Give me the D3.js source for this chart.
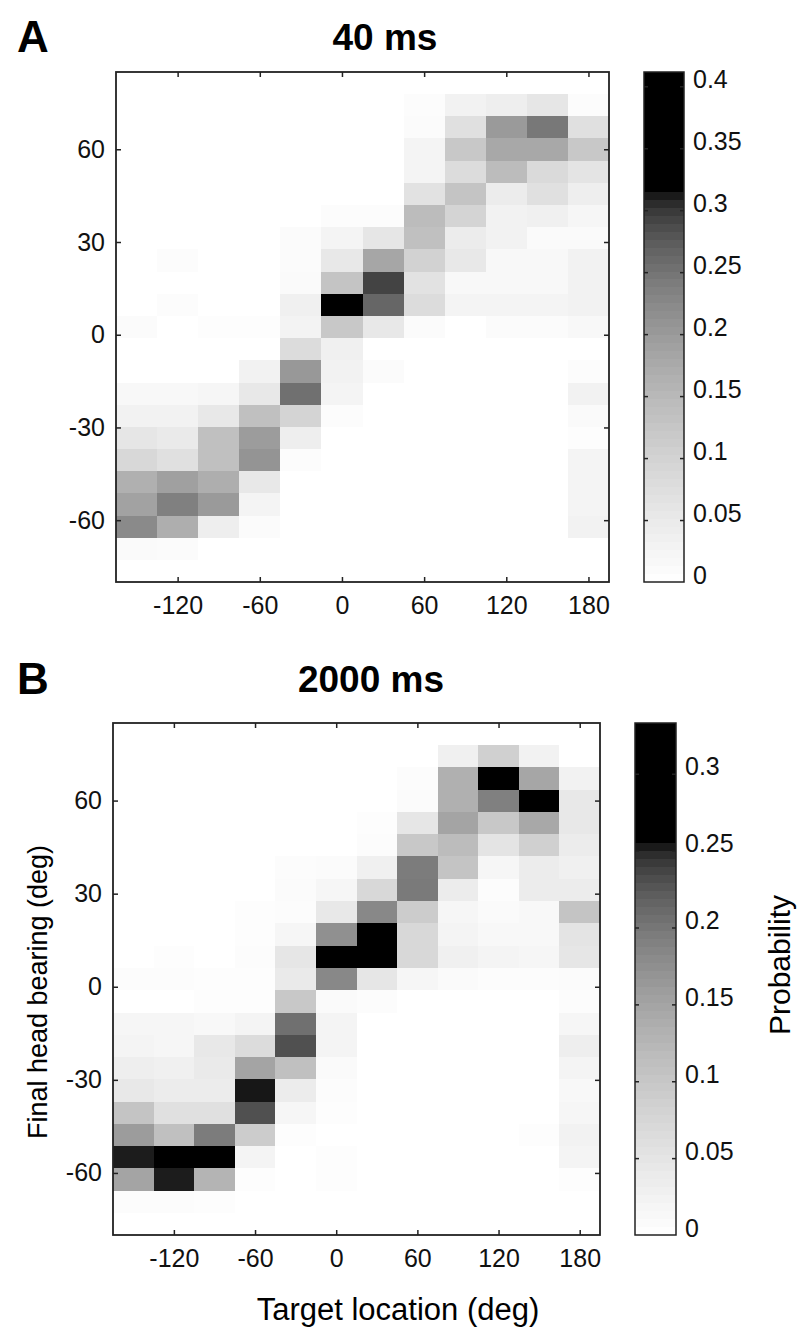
<!DOCTYPE html>
<html>
<head>
<meta charset="utf-8">
<script src="https://cdnjs.cloudflare.com/ajax/libs/d3/7.8.5/d3.min.js"></script>
<style>
    body { margin: 0; background: #fff; }
    svg { display: block; font-family: "Liberation Sans", Arial, sans-serif; }
    .tick text { font-size: 25px; fill: #111; }
    .tick line { stroke: #222; stroke-width: 1.5; }
</style>
</head>
<body>
<svg width="800" height="1334"></svg>
<script>
// target location bins (deg), centers
var target = [-150, -120, -90, -60, -30, 0, 30, 60, 90, 120, 150, 180];
// final head bearing bins (deg), centers, top to bottom
var bearing = [81.4, 74.2, 67.1, 59.9, 52.7, 45.5, 38.4, 31.2, 24.0, 16.8, 9.7, 2.5,
    -4.7, -11.9, -19.1, -26.2, -33.4, -40.6, -47.8, -54.9, -62.1, -69.3, -76.5];
var xTickVals = [-120, -60, 0, 60, 120, 180];
var yTickVals = [-60, -30, 0, 30, 60];
var cbTicks40 = [0, 0.05, 0.1, 0.15, 0.2, 0.25, 0.3, 0.35, 0.4];
var cbTicks2000 = [0, 0.05, 0.1, 0.15, 0.2, 0.25, 0.3];

var prob40 = [
    [0, 0, 0, 0, 0, 0, 0, 0, 0, 0, 0, 0],
    [0, 0, 0, 0, 0, 0, 0, .007, .031, .041, .059, .007],
    [0, 0, 0, 0, 0, 0, 0, .010, .072, .200, .245, .072],
    [0, 0, 0, 0, 0, 0, 0, .027, .121, .178, .178, .121],
    [0, 0, 0, 0, 0, 0, 0, .027, .080, .144, .085, .063],
    [0, 0, 0, 0, 0, 0, 0, .068, .129, .045, .072, .041],
    [0, 0, 0, 0, 0, .007, .007, .144, .097, .031, .036, .022],
    [0, 0, 0, 0, .010, .027, .059, .136, .045, .031, .012, .012],
    [0, .007, 0, 0, .010, .054, .182, .101, .054, .017, .017, .031],
    [0, 0, 0, 0, .012, .129, .293, .068, .017, .017, .017, .031],
    [0, .007, 0, 0, .036, .340, .265, .080, .027, .027, .027, .031],
    [.010, 0, .005, .005, .030, .121, .054, .010, 0, .010, .010, .017],
    [0, 0, 0, 0, .080, .036, 0, 0, 0, 0, 0, 0],
    [0, 0, 0, .031, .203, .031, .010, 0, 0, 0, 0, .007],
    [.017, .017, .022, .054, .254, .027, 0, 0, 0, 0, 0, .031],
    [.031, .031, .054, .136, .097, .007, 0, 0, 0, 0, 0, .012],
    [.059, .050, .136, .197, .041, 0, 0, 0, 0, 0, 0, .005],
    [.089, .072, .136, .209, .007, 0, 0, 0, 0, 0, 0, .027],
    [.165, .191, .168, .054, 0, 0, 0, 0, 0, 0, 0, .027],
    [.188, .236, .200, .027, 0, 0, 0, 0, 0, 0, 0, .027],
    [.223, .168, .041, .010, 0, 0, 0, 0, 0, 0, 0, .031],
    [.012, .010, 0, 0, 0, 0, 0, 0, 0, 0, 0, 0],
    [0, 0, 0, 0, 0, 0, 0, 0, 0, 0, 0, 0]
];

var prob2000 = [
    [0, 0, 0, 0, 0, 0, 0, 0, 0, 0, 0, 0],
    [0, 0, 0, 0, 0, 0, 0, 0, .029, .085, .025, 0],
    [0, 0, 0, 0, 0, 0, 0, .006, .134, .310, .147, .025],
    [0, 0, 0, 0, 0, 0, 0, .008, .134, .191, .300, .044],
    [0, 0, 0, 0, 0, 0, .004, .048, .150, .098, .144, .044],
    [0, 0, 0, 0, 0, 0, .006, .098, .116, .051, .085, .037],
    [0, 0, 0, 0, .006, .008, .029, .195, .104, .018, .037, .029],
    [0, 0, 0, 0, .008, .018, .072, .197, .037, .006, .037, .037],
    [0, 0, 0, .004, .006, .044, .182, .092, .018, .010, .014, .104],
    [0, 0, 0, .004, .018, .174, .290, .072, .022, .014, .014, .051],
    [0, .004, 0, .006, .048, .320, .300, .072, .029, .022, .018, .048],
    [.006, .006, .004, .004, .040, .182, .048, .018, .010, .006, .006, .008],
    [0, 0, .004, .004, .098, .010, .006, 0, 0, 0, 0, .006],
    [.018, .018, .014, .022, .206, .022, 0, 0, 0, 0, 0, .018],
    [.022, .018, .044, .065, .230, .022, 0, 0, 0, 0, 0, .033],
    [.033, .029, .040, .150, .110, .010, 0, 0, 0, 0, 0, .022],
    [.044, .037, .037, .253, .037, .006, 0, 0, 0, 0, 0, .014],
    [.104, .058, .058, .230, .018, .004, 0, 0, 0, 0, 0, .018],
    [.160, .110, .195, .092, .004, 0, 0, 0, 0, 0, .004, .025],
    [.252, .300, .300, .022, 0, .004, 0, 0, 0, 0, 0, .022],
    [.150, .252, .128, .004, 0, .004, 0, 0, 0, 0, 0, .004],
    [.006, .006, .004, 0, 0, 0, 0, 0, 0, 0, 0, 0],
    [0, 0, 0, 0, 0, 0, 0, 0, 0, 0, 0, 0]
];

var svg = d3.select('svg');
var binW = 30,
    binH = 7.174;

var panels = [
    {letter: 'A', title: '40 ms', data: prob40, cbTicks: cbTicks40, clim: 0.4115, sat: 0.315,
        left: 116, right: 609, top: 72, bottom: 582, cbLeft: 644, cbRight: 684,
        titleX: 385, titleY: 50},
    {letter: 'B', title: '2000 ms', data: prob2000, cbTicks: cbTicks2000, clim: 0.333, sat: 0.255,
        left: 113, right: 600, top: 723, bottom: 1235, cbLeft: 635, cbRight: 676,
        titleX: 371, titleY: 692}
];

// inverted gray colormap, black above sat
function grayOf(v, sat) {
    var t = Math.max(0, Math.min(1, v / sat));
    var g = Math.round(255 * Math.sqrt(1 - t));
    return d3.rgb(g, g, g).toString();
}

function fmt(d) {
    return d === 0 ? '0' : String(d);
}

panels.forEach(function (p, k) {
    var x = d3.scaleLinear().domain([-165, 195]).range([p.left, p.right]),
        y = d3.scaleLinear().domain([-80, 85]).range([p.bottom, p.top]);

    var g = svg.append('g').attr('class', 'panel-' + p.letter);

    g.append('clipPath').attr('id', 'clip' + k)
        .append('rect')
        .attr('x', p.left).attr('y', p.top)
        .attr('width', p.right - p.left).attr('height', p.bottom - p.top);

    var cells = [];
    p.data.forEach(function (row, i) {
        row.forEach(function (v, j) {
            cells.push({t: target[j], b: bearing[i], v: v});
        });
    });

    g.append('g')
        .attr('clip-path', 'url(#clip' + k + ')')
        .selectAll('.cell')
        .data(cells)
        .enter().append('rect')
        .attr('class', 'cell')
        .attr('x', function (d) { return x(d.t - binW / 2); })
        .attr('y', function (d) { return y(d.b + binH / 2); })
        .attr('width', function (d) { return x(d.t + binW / 2) - x(d.t - binW / 2) + 0.4; })
        .attr('height', function (d) { return y(d.b - binH / 2) - y(d.b + binH / 2) + 0.4; })
        .attr('fill', function (d) { return grayOf(d.v, p.sat); })
        .attr('shape-rendering', 'crispEdges');

    // axes, ticks pointing inwards on all sides
    g.append('g')
        .attr('transform', 'translate(0,' + p.bottom + ')')
        .call(d3.axisBottom(x).tickValues(xTickVals).tickSizeInner(-5).tickSizeOuter(0).tickPadding(14).tickFormat(fmt))
        .call(function (a) { a.select('.domain').remove(); });
    g.append('g')
        .attr('transform', 'translate(0,' + p.top + ')')
        .call(d3.axisTop(x).tickValues(xTickVals).tickSizeInner(-5).tickSizeOuter(0).tickFormat(''))
        .call(function (a) { a.select('.domain').remove(); });
    g.append('g')
        .attr('transform', 'translate(' + p.left + ',0)')
        .call(d3.axisLeft(y).tickValues(yTickVals).tickSizeInner(-5).tickSizeOuter(0).tickPadding(11).tickFormat(fmt))
        .call(function (a) { a.select('.domain').remove(); });
    g.append('g')
        .attr('transform', 'translate(' + p.right + ',0)')
        .call(d3.axisRight(y).tickValues(yTickVals).tickSizeInner(-5).tickSizeOuter(0).tickFormat(''))
        .call(function (a) { a.select('.domain').remove(); });

    g.append('rect')
        .attr('x', p.left).attr('y', p.top)
        .attr('width', p.right - p.left).attr('height', p.bottom - p.top)
        .attr('fill', 'none').attr('stroke', '#222').attr('stroke-width', 1.8);

    // colorbar
    var cy = d3.scaleLinear().domain([0, p.clim]).range([p.bottom, p.top]);
    var nLev = 64;
    g.append('g').selectAll('.lev')
        .data(d3.range(nLev))
        .enter().append('rect')
        .attr('class', 'lev')
        .attr('x', p.cbLeft)
        .attr('width', p.cbRight - p.cbLeft)
        .attr('y', function (l) { return cy((l + 1) / nLev * p.clim); })
        .attr('height', function (l) { return cy(l / nLev * p.clim) - cy((l + 1) / nLev * p.clim) + 0.3; })
        .attr('fill', function (l) { return grayOf((l + 0.5) / nLev * p.clim, p.sat); })
        .attr('shape-rendering', 'crispEdges');

    var cbAxis = g.append('g')
        .attr('transform', 'translate(' + p.cbRight + ',0)')
        .call(d3.axisRight(cy).tickValues(p.cbTicks).tickSizeInner(-4).tickSizeOuter(0).tickPadding(9).tickFormat(fmt));
    cbAxis.select('.domain').remove();
    cbAxis.selectAll('text').attr('y', -7);
    cbAxis.selectAll('.tick').filter(function (d) { return d === 0; }).select('line').remove();

    g.append('g')
        .attr('transform', 'translate(' + p.cbLeft + ',0)')
        .call(d3.axisLeft(cy).tickValues(p.cbTicks.slice(1)).tickSizeInner(-4).tickSizeOuter(0).tickFormat(''))
        .call(function (a) { a.select('.domain').remove(); });

    g.append('rect')
        .attr('x', p.cbLeft).attr('y', p.top)
        .attr('width', p.cbRight - p.cbLeft).attr('height', p.bottom - p.top)
        .attr('fill', 'none').attr('stroke', '#222').attr('stroke-width', 1.5);

    // titles
    g.append('text')
        .attr('x', 17).attr('y', p.titleY + 2)
        .attr('font-size', 44).attr('font-weight', 'bold')
        .text(p.letter);
    g.append('text')
        .attr('x', p.titleX).attr('y', p.titleY)
        .attr('text-anchor', 'middle')
        .attr('font-size', 37).attr('font-weight', 'bold')
        .text(p.title);

    if (k === 1) {
        g.append('text')
            .attr('transform', 'translate(38,' + 992 + ') rotate(-90)')
            .attr('text-anchor', 'middle')
            .attr('dominant-baseline', 'central')
            .attr('font-size', 27)
            .text('Final head bearing (deg)');
        g.append('text')
            .attr('x', 398).attr('y', 1320)
            .attr('text-anchor', 'middle')
            .attr('font-size', 31)
            .text('Target location (deg)');
        g.append('text')
            .attr('transform', 'translate(779,' + 965 + ') rotate(-90)')
            .attr('text-anchor', 'middle')
            .attr('dominant-baseline', 'central')
            .attr('font-size', 30)
            .text('Probability');
    }
});
</script>
</body>
</html>
